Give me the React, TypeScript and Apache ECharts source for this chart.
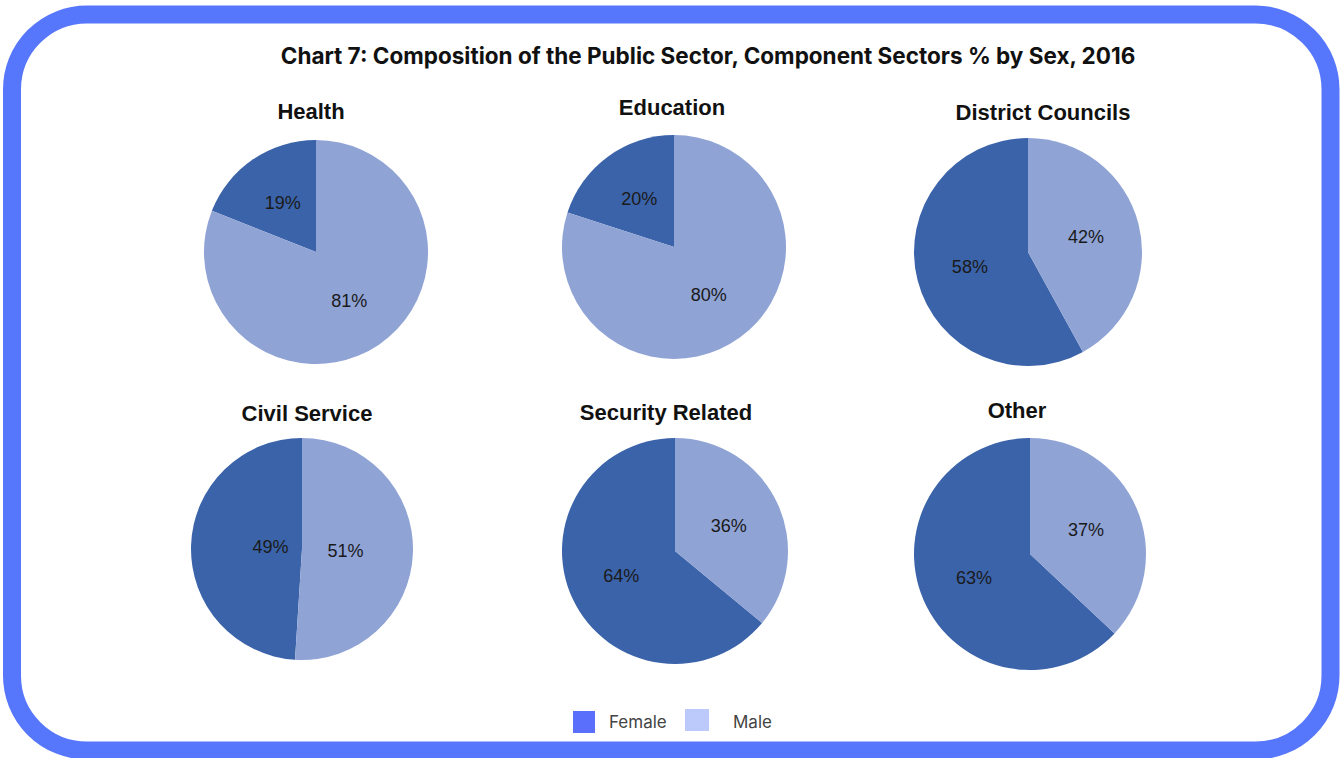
import React, { useEffect, useRef } from "react";
import * as echarts from "echarts";

const chartTitle = "Chart 7: Composition of the Public Sector, Component Sectors % by Sex, 2016";
const sectors = ["Health", "Education", "District Councils", "Civil Service", "Security Related", "Other"];
const seriesNames = ["Female", "Male"];
const femalePct = [19, 20, 58, 49, 64, 63];
const malePct = [81, 80, 42, 51, 36, 37];

// layout (pixels)
const pieCenters: [number, number][] = [
  [316, 252], [674, 247], [1028, 252],
  [302, 549], [675, 551], [1030, 554],
];
const pieRadii = [112, 112, 114, 111, 113, 116];
const pieTitlePos: [number, number][] = [
  [311, 111], [672, 107], [1043, 112],
  [307, 413], [666, 412], [1017, 410],
];
// per-slice label padding to nudge labels (Civil Service labels sit nearer the centre)
const labelPads: (number[] | undefined)[][] = [
  [undefined, undefined], [undefined, undefined], [undefined, undefined],
  [[0, 0, 8, 54], [0, 30, 10, 0]], [undefined, undefined], [undefined, undefined],
];

const pieColors = ["#3b63a9", "#8fa3d5"];
const legendColors = ["#5a6ffb", "#bccafb"];

export default function App() {
  const ref = useRef<HTMLDivElement>(null);
  useEffect(() => {
    if (!ref.current) return;
    const chart = echarts.init(ref.current, null, { renderer: "svg" });
    const series = sectors.map((s, i) => ({
      type: "pie",
      name: s,
      center: pieCenters[i],
      radius: [0, pieRadii[i]],
      startAngle: 90,
      clockwise: false,
      silent: true,
      label: {
        show: true,
        position: "inside",
        formatter: "{c}%",
        fontFamily: "Liberation Sans, Arial, sans-serif",
        fontSize: 18,
        color: "#1a1a1a",
      },
      labelLine: { show: false },
      itemStyle: { borderWidth: 0 },
      data: [femalePct[i], malePct[i]].map((v, k) => {
        const item: any = { name: seriesNames[k], value: v, itemStyle: { color: pieColors[k] } };
        if (labelPads[i][k]) item.label = { padding: labelPads[i][k] };
        return item;
      }),
    }));
    const graphics: any[] = [
      {
        type: "rect",
        shape: { x: 12, y: 14.5, width: 1318.5, height: 736, r: 75 },
        style: { fill: "#ffffff", stroke: "#5676fc", lineWidth: 18 },
        z: -10,
      },
      {
        type: "text",
        x: 708,
        y: 55,
        style: {
          text: chartTitle,
          align: "center",
          verticalAlign: "middle",
          fontFamily: "Inter, sans-serif",
          fontWeight: 700,
          fontSize: 22.5,
          fill: "#111111",
        },
      },
      ...sectors.map((s, i) => ({
        type: "text",
        x: pieTitlePos[i][0],
        y: pieTitlePos[i][1],
        style: {
          text: s,
          align: "center",
          verticalAlign: "middle",
          fontFamily: "Liberation Sans, Arial, sans-serif",
          fontWeight: "bold",
          fontSize: 22,
          fill: "#111111",
        },
      })),
      { type: "rect", shape: { x: 573, y: 711, width: 22, height: 22 }, style: { fill: legendColors[0] } },
      {
        type: "text", x: 609, y: 722,
        style: { text: seriesNames[0], verticalAlign: "middle", fontFamily: "Inter, sans-serif", fontSize: 17, fill: "#444444" },
      },
      { type: "rect", shape: { x: 685, y: 709, width: 24, height: 22 }, style: { fill: legendColors[1] } },
      {
        type: "text", x: 733, y: 722,
        style: { text: seriesNames[1], verticalAlign: "middle", fontFamily: "Inter, sans-serif", fontSize: 17, fill: "#444444" },
      },
    ];
    chart.setOption({
      animation: false,
      backgroundColor: "#ffffff",
      graphic: graphics,
      series,
    });
    return () => chart.dispose();
  }, []);
  return (
    <div
      ref={ref}
      style={{ position: "fixed", left: 0, top: 0, width: 1340, height: 758 }}
    />
  );
}
